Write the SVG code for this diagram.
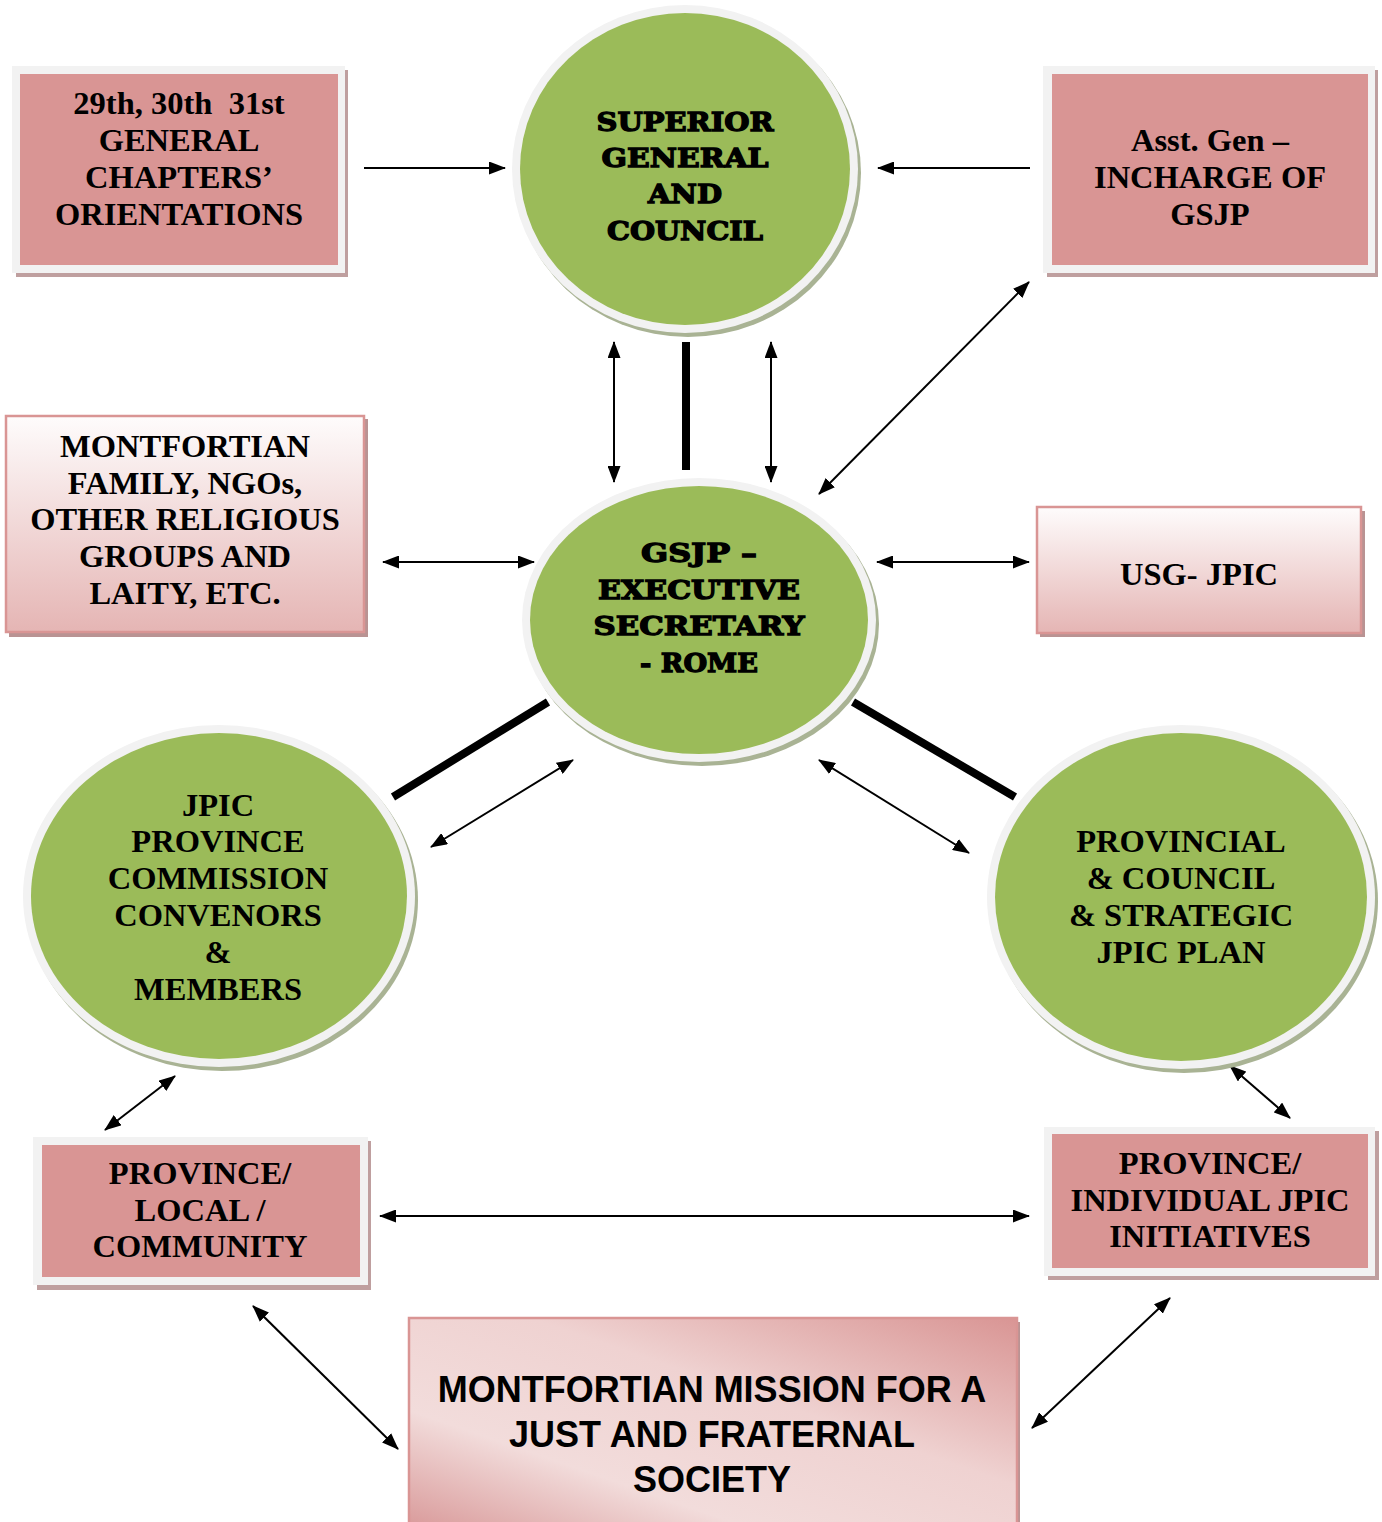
<svg xmlns="http://www.w3.org/2000/svg" width="1382" height="1522" viewBox="0 0 1382 1522">
<defs>
<style>
.bx{fill:#d99594}
.bxo{fill:#f2f2f2}
.bxs{fill:#bf9f9f}
.ring{fill:#f2f2f2}
.csh{fill:#a9b394}
.grn{fill:#9bbb59}
.t{font-family:"Liberation Serif","Times New Roman",serif;font-weight:bold;font-size:32.5px;fill:#000;text-anchor:middle}
.h{font-family:"DejaVu Serif",serif;font-weight:bold;font-size:26px;fill:#000;stroke:#000;stroke-width:1.3;text-anchor:middle}
.m{font-family:"Liberation Sans",Arial,sans-serif;font-weight:bold;font-size:36px;fill:#000;text-anchor:middle}
.ln{stroke:#000;stroke-width:2;fill:none}
.thick{stroke:#000;stroke-width:8;fill:none}
</style>
<linearGradient id="gv" x1="0" y1="0" x2="0" y2="1">
<stop offset="0" stop-color="#fefcfc"/>
<stop offset="1" stop-color="#e5b5b4"/>
</linearGradient>
<linearGradient id="gm" x1="0" y1="1" x2="1" y2="0">
<stop offset="0" stop-color="#d99a9a"/>
<stop offset="0.28" stop-color="#f2dcdb"/>
<stop offset="0.6" stop-color="#efd2d1"/>
<stop offset="1" stop-color="#d99594"/>
</linearGradient>
<marker id="ah" viewBox="0 0 17 13" refX="16" refY="6.5" markerWidth="17" markerHeight="13" markerUnits="userSpaceOnUse" orient="auto-start-reverse">
<path d="M0,0 L17,6.5 L0,13 z" fill="#000"/>
</marker>
</defs>

<g id="connectors">
<line class="ln" x1="364" y1="168" x2="505" y2="168" marker-end="url(#ah)"/>
<line class="ln" x1="1030" y1="168" x2="878" y2="168" marker-end="url(#ah)"/>
<line class="ln" x1="614" y1="342" x2="614" y2="482" marker-start="url(#ah)" marker-end="url(#ah)"/>
<line class="ln" x1="771" y1="342" x2="771" y2="482" marker-start="url(#ah)" marker-end="url(#ah)"/>
<line class="thick" x1="686" y1="342" x2="686" y2="470"/>
<line class="ln" x1="1029" y1="282" x2="819" y2="494" marker-start="url(#ah)" marker-end="url(#ah)"/>
<line class="ln" x1="383" y1="562" x2="534" y2="562" marker-start="url(#ah)" marker-end="url(#ah)"/>
<line class="ln" x1="877" y1="562" x2="1029" y2="562" marker-start="url(#ah)" marker-end="url(#ah)"/>
<line class="thick" x1="548" y1="702" x2="393" y2="797"/>
<line class="thick" x1="853" y1="702" x2="1015" y2="797"/>
<line class="ln" x1="573" y1="760" x2="431" y2="847" marker-start="url(#ah)" marker-end="url(#ah)"/>
<line class="ln" x1="819" y1="760" x2="969" y2="853" marker-start="url(#ah)" marker-end="url(#ah)"/>
<line class="ln" x1="175" y1="1076" x2="105" y2="1130" marker-start="url(#ah)" marker-end="url(#ah)"/>
<line class="ln" x1="1230" y1="1066" x2="1290" y2="1118" marker-start="url(#ah)" marker-end="url(#ah)"/>
<line class="ln" x1="380" y1="1216" x2="1029" y2="1216" marker-start="url(#ah)" marker-end="url(#ah)"/>
<line class="ln" x1="253" y1="1306" x2="398" y2="1449" marker-start="url(#ah)" marker-end="url(#ah)"/>
<line class="ln" x1="1170" y1="1298" x2="1032" y2="1428" marker-start="url(#ah)" marker-end="url(#ah)"/>
</g>

<g id="chapters">
<rect class="bxs" x="16" y="70" width="332" height="207"/>
<rect class="bxo" x="12" y="66" width="333" height="207"/>
<rect class="bx" x="20" y="74" width="318" height="191"/>
<text class="t" x="179" y="114">29th, 30th&#160; 31st</text>
<text class="t" x="179" y="151">GENERAL</text>
<text class="t" x="179" y="188">CHAPTERS’</text>
<text class="t" x="179" y="225">ORIENTATIONS</text>
</g>

<g id="asst-gen">
<rect class="bxs" x="1047" y="70" width="331" height="207"/>
<rect class="bxo" x="1043" y="66" width="332" height="207"/>
<rect class="bx" x="1052" y="74" width="316" height="191"/>
<text class="t" x="1210" y="151">Asst. Gen –</text>
<text class="t" x="1210" y="188">INCHARGE OF</text>
<text class="t" x="1210" y="225">GSJP</text>
</g>

<g id="superior">
<ellipse class="csh" cx="688" cy="173" rx="173" ry="164"/>
<ellipse class="ring" cx="685" cy="169" rx="173" ry="164"/>
<ellipse class="grn" cx="685" cy="169" rx="165" ry="156"/>
<text class="h" x="685" y="131" textLength="177" lengthAdjust="spacingAndGlyphs">SUPERIOR</text>
<text class="h" x="685" y="167" textLength="167" lengthAdjust="spacingAndGlyphs">GENERAL</text>
<text class="h" x="685" y="203" textLength="74" lengthAdjust="spacingAndGlyphs">AND</text>
<text class="h" x="685" y="240" textLength="156" lengthAdjust="spacingAndGlyphs">COUNCIL</text>
</g>

<g id="family">
<rect fill="#b99393" x="9" y="419" width="359" height="218"/>
<rect fill="url(#gv)" stroke="#d99594" stroke-width="2.5" x="6" y="416" width="358" height="216"/>
<text class="t" x="185" y="457">MONTFORTIAN</text>
<text class="t" x="185" y="494">FAMILY, NGOs,</text>
<text class="t" x="185" y="530">OTHER RELIGIOUS</text>
<text class="t" x="185" y="567">GROUPS AND</text>
<text class="t" x="185" y="604">LAITY, ETC.</text>
</g>

<g id="gsjp">
<ellipse class="csh" cx="702" cy="624" rx="177" ry="142"/>
<ellipse class="ring" cx="699" cy="620" rx="177" ry="142"/>
<ellipse class="grn" cx="699" cy="620" rx="169" ry="134"/>
<text class="h" x="699" y="562" textLength="116" lengthAdjust="spacingAndGlyphs">GSJP –</text>
<text class="h" x="699" y="599" textLength="202" lengthAdjust="spacingAndGlyphs">EXECUTIVE</text>
<text class="h" x="699" y="635" textLength="211" lengthAdjust="spacingAndGlyphs">SECRETARY</text>
<text class="h" x="699" y="672" textLength="118" lengthAdjust="spacingAndGlyphs">- ROME</text>
</g>

<g id="usg">
<rect fill="#b99393" x="1040" y="511" width="325" height="126"/>
<rect fill="url(#gv)" stroke="#d99594" stroke-width="2.5" x="1037" y="507" width="324" height="126"/>
<text class="t" x="1199" y="585">USG- JPIC</text>
</g>

<g id="jpic-commission">
<ellipse class="csh" cx="222" cy="900" rx="196" ry="171"/>
<ellipse class="ring" cx="219" cy="896" rx="196" ry="171"/>
<ellipse class="grn" cx="219" cy="896" rx="188" ry="163"/>
<text class="t" x="218" y="816">JPIC</text>
<text class="t" x="218" y="852">PROVINCE</text>
<text class="t" x="218" y="889">COMMISSION</text>
<text class="t" x="218" y="926">CONVENORS</text>
<text class="t" x="218" y="963">&amp;</text>
<text class="t" x="218" y="1000">MEMBERS</text>
</g>

<g id="provincial">
<ellipse class="csh" cx="1184" cy="901" rx="194" ry="172"/>
<ellipse class="ring" cx="1181" cy="897" rx="194" ry="172"/>
<ellipse class="grn" cx="1181" cy="897" rx="186" ry="164"/>
<text class="t" x="1181" y="852">PROVINCIAL</text>
<text class="t" x="1181" y="889">&amp; COUNCIL</text>
<text class="t" x="1181" y="926">&amp; STRATEGIC</text>
<text class="t" x="1181" y="963">JPIC PLAN</text>
</g>

<g id="province-local">
<rect class="bxs" x="37" y="1141" width="334" height="149"/>
<rect class="bxo" x="33" y="1137" width="335" height="148"/>
<rect class="bx" x="42" y="1145" width="318" height="132"/>
<text class="t" x="200" y="1184">PROVINCE/</text>
<text class="t" x="200" y="1221">LOCAL /</text>
<text class="t" x="200" y="1257">COMMUNITY</text>
</g>

<g id="province-individual">
<rect class="bxs" x="1048" y="1131" width="331" height="149"/>
<rect class="bxo" x="1044" y="1127" width="331" height="149"/>
<rect class="bx" x="1052" y="1134" width="316" height="134"/>
<text class="t" x="1210" y="1174">PROVINCE/</text>
<text class="t" x="1210" y="1211">INDIVIDUAL JPIC</text>
<text class="t" x="1210" y="1247">INITIATIVES</text>
</g>

<g id="mission">
<rect fill="#b99393" x="412" y="1322" width="608" height="205"/>
<rect fill="url(#gm)" stroke="#d99594" stroke-width="2.5" x="409" y="1318" width="608" height="210"/>
<text class="m" x="712" y="1402">MONTFORTIAN MISSION FOR A</text>
<text class="m" x="712" y="1447">JUST AND FRATERNAL</text>
<text class="m" x="712" y="1492">SOCIETY</text>
</g>
</svg>
